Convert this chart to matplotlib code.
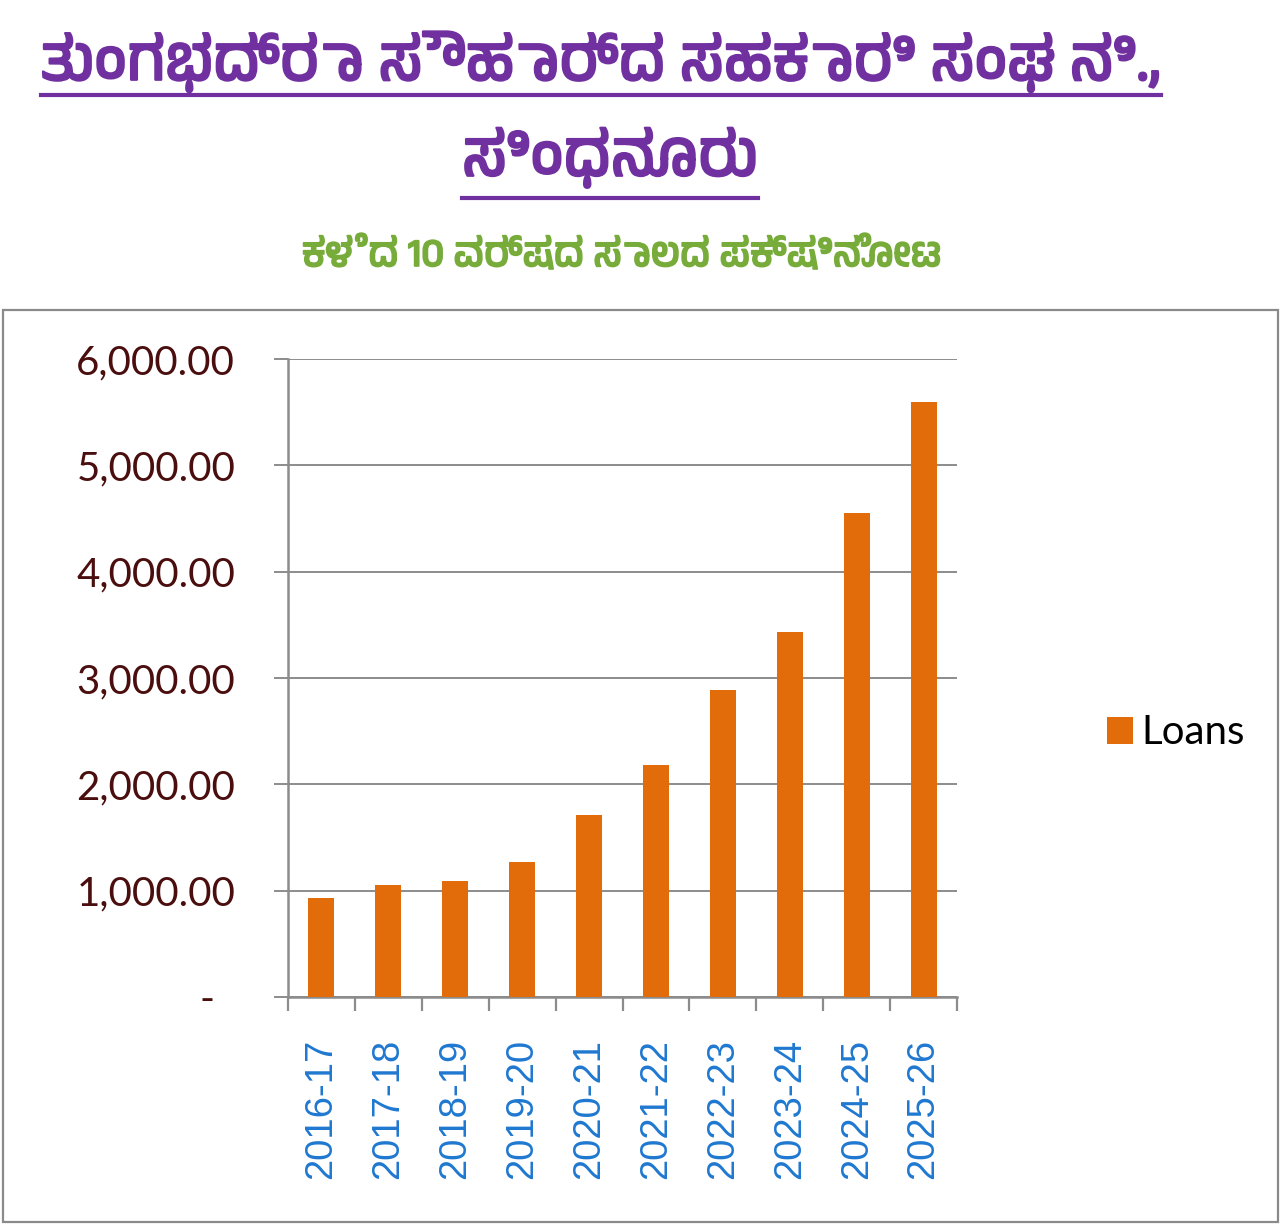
import matplotlib
matplotlib.use("Agg")
import os
import matplotlib.pyplot as plt
import matplotlib.patheffects as pe
from matplotlib import font_manager
from matplotlib.patches import Rectangle
from matplotlib.lines import Line2D
from matplotlib.ticker import FuncFormatter

# ---------- data ----------
years = ["2016-17", "2017-18", "2018-19", "2019-20", "2020-21",
         "2021-22", "2022-23", "2023-24", "2024-25", "2025-26"]
loans = [931, 1054, 1091, 1270, 1712, 2182, 2888, 3434, 4553, 5597]
series_name = "Loans"

title_line1 = "ತುಂಗಭದ್ರಾ ಸೌಹಾರ್ದ ಸಹಕಾರಿ ಸಂಘ ನಿ.,"
title_line2 = "ಸಿಂಧನೂರು"
subtitle = "ಕಳೆದ 10 ವರ್ಷದ ಸಾಲದ ಪಕ್ಷಿನೋಟ"

# ---------- colours ----------
c_bar = "#E36C0A"
c_purple = "#7030A0"
c_green = "#77AC3A"
c_ylab = "#4A0E0E"
c_xlab = "#1F78D0"
c_grid = "#8C8C8C"


# ---------- font with Kannada glyphs, best one first ----------
def find_kannada_font():
    try:
        from fontTools.ttLib import TTFont
    except Exception:
        return None
    found = []
    for f in font_manager.findSystemFonts():
        try:
            tt = TTFont(f, fontNumber=0, lazy=True)
            cmap = tt.getBestCmap()
            if cmap and 0x0C95 in cmap:
                found.append(f)
        except Exception:
            continue
    if not found:
        return None

    def rank(path):
        n = os.path.basename(path).lower()
        score = 0
        if "kannada" in n or "lohit" in n or "gubbi" in n or "navilu" in n:
            score -= 10
        if "bold" in n:
            score -= 2
        if "unifont" in n or "mono" in n:
            score += 20
        return score

    found.sort(key=rank)
    return found[0]


kn_path = find_kannada_font()
if kn_path:
    fp_title = font_manager.FontProperties(fname=kn_path, size=40)
    fp_sub = font_manager.FontProperties(fname=kn_path, size=30)
else:
    fp_title = font_manager.FontProperties(family="DejaVu Sans", size=40,
                                           weight="bold", style="italic")
    fp_sub = font_manager.FontProperties(family="DejaVu Sans", size=30,
                                         weight="bold", style="italic")

W, H = 1284, 1225
fig = plt.figure(figsize=(W / 100, H / 100), dpi=100)
fig.patch.set_facecolor("white")

# chart frame
fig.patches.append(Rectangle((3 / W, 3 / H), 1275 / W, 912 / H,
                             transform=fig.transFigure, fill=False,
                             edgecolor="#8A8A8A", linewidth=1.6))

# ---------- titles ----------
bold_purple = [pe.withStroke(linewidth=1.6, foreground=c_purple)]
bold_green = [pe.withStroke(linewidth=1.3, foreground=c_green)]
t1 = fig.text(601 / W, 1 - 62 / H, title_line1, ha="center", va="center",
              color=c_purple, fontproperties=fp_title.copy(),
              path_effects=bold_purple)
t2 = fig.text(610 / W, 1 - 158 / H, title_line2, ha="center", va="center",
              color=c_purple, fontproperties=fp_title.copy(),
              path_effects=bold_purple)
t3 = fig.text(622 / W, 1 - 255 / H, subtitle, ha="center", va="center",
              color=c_green, fontproperties=fp_sub.copy(),
              path_effects=bold_green)

# fit each line to the width it has in the reference
fig.canvas.draw()
rend = fig.canvas.get_renderer()
for t, target, cap in [(t1, 1120, 48), (t2, 296, 48), (t3, 640, 34)]:
    w = t.get_window_extent(renderer=rend).width
    t.set_fontsize(min(cap, t.get_fontsize() * target / w))

fig.canvas.draw()
for t, yline in [(t1, 95), (t2, 198)]:
    bb = t.get_window_extent(renderer=rend)
    fig.lines.append(Line2D([bb.x0 / W, bb.x1 / W], [1 - yline / H, 1 - yline / H],
                            transform=fig.transFigure, color=c_purple,
                            linewidth=3))

# ---------- chart ----------
ax = fig.add_axes([288 / W, 1 - 997 / H, 669 / W, 638 / H])
x = list(range(len(years)))
ax.bar(x, loans, width=0.39, color=c_bar, label=series_name, zorder=3)

ax.set_xlim(-0.5, len(years) - 0.5)
ax.set_ylim(0, 6000)
ax.set_yticks([0, 1000, 2000, 3000, 4000, 5000, 6000])
ax.yaxis.set_major_formatter(FuncFormatter(
    lambda v, p: "-  " if v == 0 else f"{v:,.2f}"))
ax.grid(axis="y", color=c_grid, linewidth=1.4, zorder=1)

ax.set_xticks(x)
ax.set_xticklabels(years, rotation=90, color=c_xlab, fontsize=27.5,
                   family="Liberation Sans")
ax.set_xticks([i - 0.5 for i in range(len(years) + 1)], minor=True)
ax.tick_params(axis="x", which="major", length=0, pad=30)
ax.tick_params(axis="x", which="minor", length=10, width=1.6, color=c_grid,
               direction="out")
ax.tick_params(axis="y", length=10, width=1.4, color=c_grid, pad=28,
               labelsize=29, labelcolor=c_ylab)
for lab in ax.get_yticklabels():
    lab.set_family("Lato")

for s in ["top", "right"]:
    ax.spines[s].set_visible(False)
for s in ["left", "bottom"]:
    ax.spines[s].set_color(c_grid)
    ax.spines[s].set_linewidth(1.8)

ax.legend(loc="center left", bbox_to_anchor=(1071 / W, 1 - 733 / H),
          bbox_transform=fig.transFigure, frameon=False,
          prop={"family": "Lato", "size": 29},
          handlelength=0.65, handleheight=0.65, handletextpad=0.2)

fig.savefig("out.png", dpi=100)
